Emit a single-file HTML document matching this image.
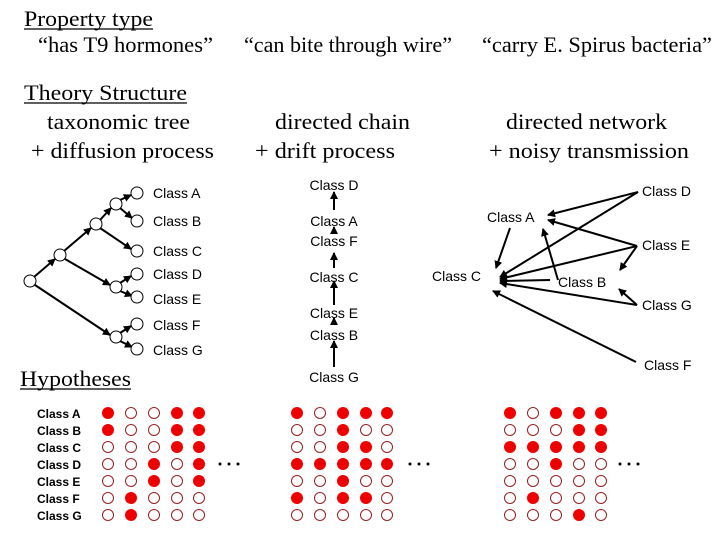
<!DOCTYPE html>
<html><head><meta charset="utf-8"><style>
html,body{margin:0;padding:0;background:#fff;}
svg{display:block;}
.s{font-family:"Liberation Serif",serif;font-size:22px;fill:#000;}
.a{font-family:"Liberation Sans",sans-serif;font-size:14px;fill:#000;}
.h{font-family:"Liberation Sans",sans-serif;font-size:12px;font-weight:bold;fill:#000;}
</style></head><body>
<svg width="720" height="540" viewBox="0 0 720 540" xmlns="http://www.w3.org/2000/svg">
<defs>
<marker id="ar" markerWidth="8" markerHeight="8" refX="7" refY="4" orient="auto" markerUnits="userSpaceOnUse">
<path d="M0,0 L8,4 L0,8 z" fill="#000"/></marker>
</defs>
<!-- headers -->
<text class="s" x="24" y="26" textLength="129" lengthAdjust="spacingAndGlyphs">Property type</text>
<line x1="24" y1="29" x2="153" y2="29" stroke="#000" stroke-width="1.2"/>
<text class="s" x="38" y="52" textLength="175" lengthAdjust="spacingAndGlyphs">“has T9 hormones”</text>
<text class="s" x="244" y="52" textLength="208" lengthAdjust="spacingAndGlyphs">“can bite through wire”</text>
<text class="s" x="482" y="52" textLength="230" lengthAdjust="spacingAndGlyphs">“carry E. Spirus bacteria”</text>
<text class="s" x="24" y="100" textLength="163" lengthAdjust="spacingAndGlyphs">Theory Structure</text>
<line x1="24" y1="103" x2="187" y2="103" stroke="#000" stroke-width="1.2"/>
<text class="s" x="47" y="129" textLength="143" lengthAdjust="spacingAndGlyphs">taxonomic tree</text>
<text class="s" x="275" y="129" textLength="135" lengthAdjust="spacingAndGlyphs">directed chain</text>
<text class="s" x="506" y="129" textLength="161" lengthAdjust="spacingAndGlyphs">directed network</text>
<text class="s" x="31" y="158" textLength="183" lengthAdjust="spacingAndGlyphs">+ diffusion process</text>
<text class="s" x="255" y="158" textLength="140" lengthAdjust="spacingAndGlyphs">+ drift process</text>
<text class="s" x="489" y="158" textLength="200" lengthAdjust="spacingAndGlyphs">+ noisy transmission</text>
<text class="s" x="20" y="386" textLength="111" lengthAdjust="spacingAndGlyphs">Hypotheses</text>
<line x1="20" y1="389" x2="131" y2="389" stroke="#000" stroke-width="1.2"/>

<!-- tree -->
<g stroke="#000" stroke-width="2" marker-end="url(#ar)">
<line x1="34" y1="277" x2="55" y2="259"/>
<line x1="64" y1="251" x2="91" y2="228"/>
<line x1="100" y1="220" x2="111" y2="208"/>
<line x1="120" y1="200" x2="131" y2="195"/>
<line x1="120" y1="208" x2="132" y2="218"/>
<line x1="100" y1="228" x2="131" y2="249"/>
<line x1="65" y1="259" x2="110" y2="285"/>
<line x1="120" y1="283" x2="131" y2="276"/>
<line x1="120" y1="291" x2="132" y2="296"/>
<line x1="35" y1="285" x2="110" y2="335"/>
<line x1="120" y1="333" x2="131" y2="326"/>
<line x1="120" y1="341" x2="132" y2="347"/>
</g>
<g fill="#fff" stroke="#000" stroke-width="1">
<circle cx="30" cy="281" r="6"/><circle cx="60" cy="255" r="6"/><circle cx="96" cy="224" r="6"/>
<circle cx="116" cy="204" r="6"/><circle cx="116" cy="287" r="6"/><circle cx="116" cy="337" r="6"/>
<circle cx="137" cy="193" r="6"/><circle cx="137" cy="221" r="6"/><circle cx="137" cy="251" r="6"/>
<circle cx="137" cy="274" r="6"/><circle cx="137" cy="297" r="6"/><circle cx="137" cy="324" r="6"/>
<circle cx="137" cy="349" r="6"/>
</g>
<text class="a" x="153" y="198">Class A</text>
<text class="a" x="153" y="226">Class B</text>
<text class="a" x="153" y="256">Class C</text>
<text class="a" x="153" y="279">Class D</text>
<text class="a" x="153" y="304">Class E</text>
<text class="a" x="153" y="330">Class F</text>
<text class="a" x="153" y="355">Class G</text>

<!-- chain -->
<g class="a" text-anchor="middle">
<text x="334" y="190">Class D</text>
<text x="334" y="226">Class A</text>
<text x="334" y="246">Class F</text>
<text x="334" y="282">Class C</text>
<text x="334" y="318">Class E</text>
<text x="334" y="340">Class B</text>
<text x="334" y="382">Class G</text>
</g>
<g stroke="#000" stroke-width="2" marker-end="url(#ar)">
<line x1="334" y1="210" x2="334" y2="192"/>
<line x1="334" y1="232" x2="334" y2="227"/>
<line x1="334" y1="268" x2="334" y2="253"/>
<line x1="334" y1="305" x2="334" y2="281"/>
<line x1="334" y1="325" x2="334" y2="318"/>
<line x1="334" y1="367" x2="334" y2="341"/>
</g>

<!-- network -->
<g class="a">
<text x="642" y="196">Class D</text>
<text x="487" y="222">Class A</text>
<text x="642" y="250">Class E</text>
<text x="432" y="281">Class C</text>
<text x="558" y="287">Class B</text>
<text x="642" y="310">Class G</text>
<text x="644" y="370">Class F</text>
</g>
<g stroke="#000" stroke-width="2" marker-end="url(#ar)">
<line x1="638" y1="192" x2="548" y2="215"/>
<line x1="638" y1="192" x2="500" y2="277"/>
<line x1="637" y1="246" x2="548" y2="220"/>
<line x1="637" y1="246" x2="500" y2="279"/>
<line x1="637" y1="246" x2="620" y2="270"/>
<line x1="510" y1="228" x2="496" y2="268"/>
<line x1="558" y1="280" x2="543" y2="229"/>
<line x1="550" y1="280" x2="500" y2="281"/>
<line x1="637" y1="305" x2="500" y2="283"/>
<line x1="637" y1="305" x2="619" y2="289"/>
<line x1="636" y1="362" x2="493" y2="291"/>
</g>

<!-- hypotheses labels -->
<g class="h">
<text x="37" y="418">Class A</text>
<text x="37" y="435">Class B</text>
<text x="37" y="452">Class C</text>
<text x="37" y="469">Class D</text>
<text x="37" y="486">Class E</text>
<text x="37" y="503">Class F</text>
<text x="37" y="520">Class G</text>
</g>
<g id="dots" stroke="#8b1a1a" stroke-width="1">
<!-- grid1 -->
<g transform="translate(108,0)">
</g>
</g>
<g fill="#000">
<circle cx="220" cy="464" r="1.5"/><circle cx="229" cy="464" r="1.5"/><circle cx="238" cy="464" r="1.5"/>
<circle cx="410" cy="464" r="1.5"/><circle cx="419" cy="464" r="1.5"/><circle cx="428" cy="464" r="1.5"/>
<circle cx="620" cy="464" r="1.5"/><circle cx="629" cy="464" r="1.5"/><circle cx="638" cy="464" r="1.5"/>
</g>
<g id="grids"></g>
<script>
(function(){
var rows=[413,430,447,464,481,498,515];
var grids=[
 {x:[108,131,154,177,199],d:["10011","10011","00011","00101","00101","01000","01000"]},
 {x:[297,320,343,366,387],d:["10111","00100","00110","11111","00100","10110","00000"]},
 {x:[510,533,556,579,601],d:["10111","00011","11111","00100","00000","01000","00010"]}
];
var g=document.getElementById('grids'),ns="http://www.w3.org/2000/svg";
grids.forEach(function(gr){gr.d.forEach(function(r,i){for(var j=0;j<5;j++){
 var c=document.createElementNS(ns,'circle');
 c.setAttribute('cx',gr.x[j]);c.setAttribute('cy',rows[i]);
 if(r[j]=='1'){c.setAttribute('r',6);c.setAttribute('fill','#ee0000');}
 else{c.setAttribute('r',5.5);c.setAttribute('fill','#fff');c.setAttribute('stroke','#9b2020');c.setAttribute('stroke-width','1');}
 g.appendChild(c);}});});
})();
</script>
</svg>
</body></html>
